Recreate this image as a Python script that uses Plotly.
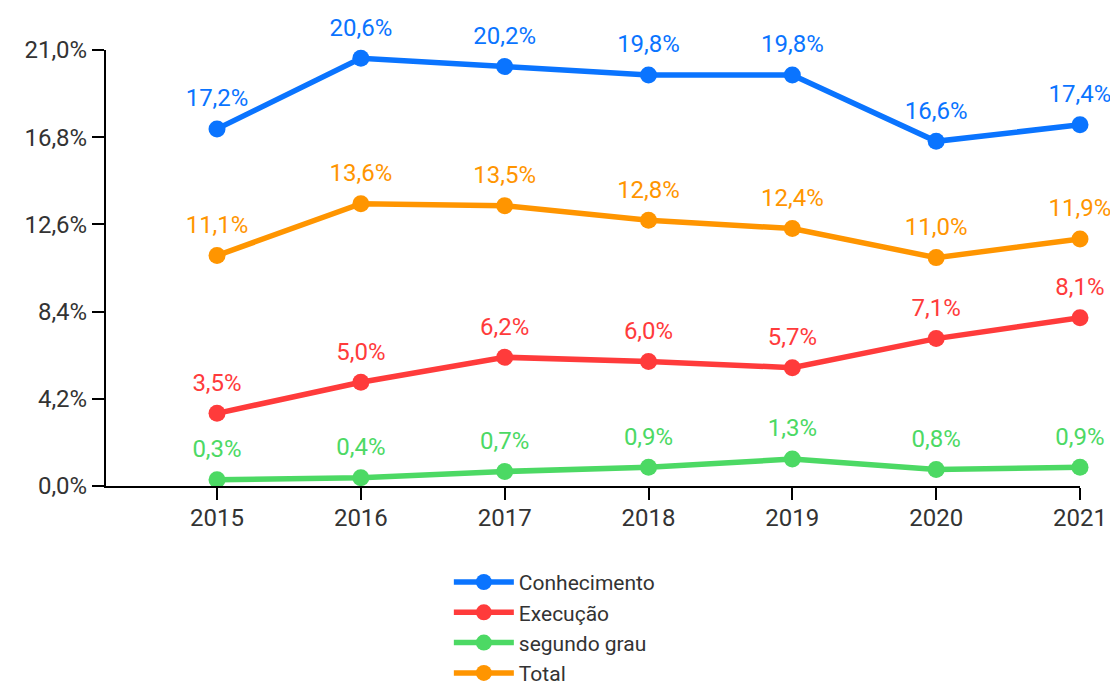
import plotly.graph_objects as go

years = [2015, 2016, 2017, 2018, 2019, 2020, 2021]
conhecimento = [17.2, 20.6, 20.2, 19.8, 19.8, 16.6, 17.4]
execucao = [3.5, 5.0, 6.2, 6.0, 5.7, 7.1, 8.1]
segundo_grau = [0.3, 0.4, 0.7, 0.9, 1.3, 0.8, 0.9]
total = [11.1, 13.6, 13.5, 12.8, 12.4, 11.0, 11.9]
y_ticks = [0, 4.2, 8.4, 12.6, 16.8, 21.0]

FONT = "Roboto, Liberation Sans, sans-serif"

series = [
    ("Conhecimento", conhecimento, "#0A74FF"),
    ("Execução", execucao, "#FF3B3B"),
    ("segundo grau", segundo_grau, "#4CD964"),
    ("Total", total, "#FF9500"),
]

def fmt(v):
    return f"{v:.1f}".replace(".", ",") + "%"

fig = go.Figure()
for name, vals, color in series:
    fig.add_trace(go.Scatter(
        x=years, y=vals, name=name,
        mode="lines+markers",
        line=dict(color=color, width=5.5),
        marker=dict(color=color, size=17),
        cliponaxis=False,
        hoverinfo="skip",
    ))
# value labels (invisible larger markers give the label offset)
for name, vals, color in series:
    fig.add_trace(go.Scatter(
        x=years, y=vals, name=name,
        mode="markers+text",
        marker=dict(color=color, size=25, opacity=0),
        text=[fmt(v) for v in vals],
        textposition="top center",
        textfont=dict(color=color, size=24, family=FONT),
        cliponaxis=False,
        hoverinfo="skip",
        showlegend=False,
    ))

fig.update_layout(
    width=1110, height=677,
    margin=dict(l=98, r=38, t=42, b=199, autoexpand=False),
    paper_bgcolor="white", plot_bgcolor="white",
    font=dict(family=FONT, size=24, color="#333333"),
    showlegend=True,
    legend=dict(
        x=0.352, y=-0.174, xanchor="left", yanchor="top",
        font=dict(size=21, color="#333333", family=FONT),
        itemwidth=60, tracegroupgap=0,
    ),
    xaxis=dict(
        range=[2014.228, 2021.0],
        tickvals=years, ticktext=[str(y) for y in years],
        showgrid=False, zeroline=False,
        showline=True, linecolor="black", linewidth=2,
        ticks="outside", ticklen=12, tickwidth=2, tickcolor="black",
        ticklabelstandoff=-3,
        tickfont=dict(size=24, color="#333333"),
    ),
    yaxis=dict(
        range=[0, 21.0],
        tickvals=y_ticks, ticktext=[fmt(v) for v in y_ticks],
        showgrid=False, zeroline=False,
        showline=True, linecolor="black", linewidth=2,
        ticks="outside", ticklen=12, tickwidth=2, tickcolor="black",
        tickfont=dict(size=24, color="#333333"),
    ),
)

fig.write_html("out.html")
